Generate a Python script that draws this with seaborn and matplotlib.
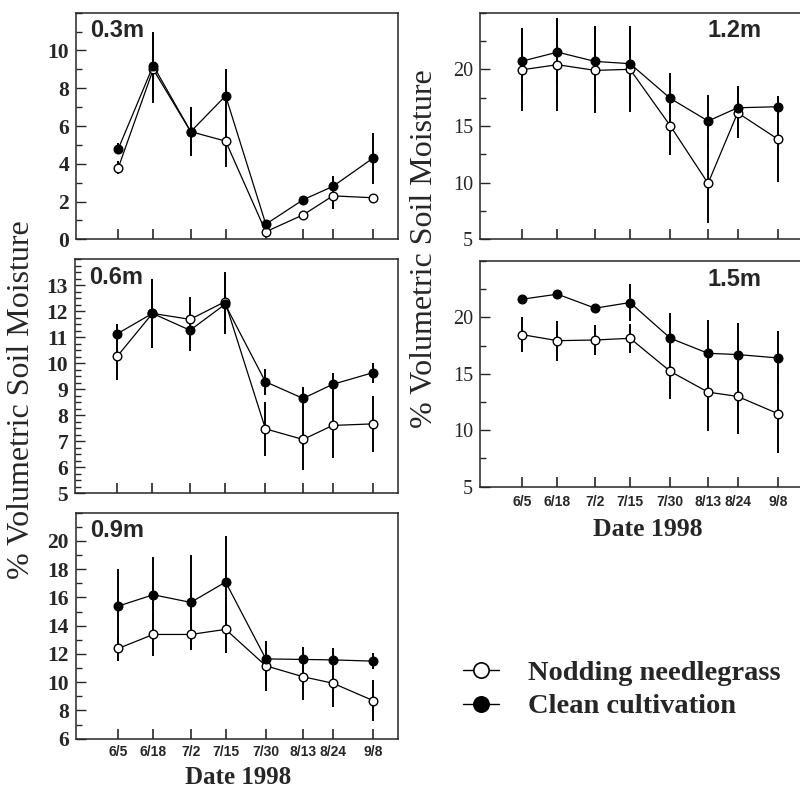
import matplotlib
matplotlib.use("Agg")
import matplotlib.pyplot as plt
import numpy as np
import pandas as pd
import seaborn as sns
from matplotlib.ticker import MultipleLocator
from matplotlib.lines import Line2D
from matplotlib.font_manager import FontProperties

# ---------------- data ----------------
dates = ['6/5', '6/18', '7/2', '7/15', '7/30', '8/13', '8/24', '9/8']
depths = ['0.3m', '0.6m', '0.9m', '1.2m', '1.5m']
series_names = ['Nodding needlegrass', 'Clean cultivation']

needle_03 = [3.8, 9.0, 5.7, 5.2, 0.4, 1.3, 2.3, 2.2]
clean_03 = [4.8, 9.2, 5.7, 7.6, 0.8, 2.1, 2.8, 4.3]
needle_03_err = [0.35, 1.8, 1.3, 1.35, 0.1, 0.1, 0.7, 0.1]
clean_03_err = [0.3, 1.8, 1.3, 1.4, 0.1, 0.1, 0.55, 1.35]

needle_06 = [10.28, 11.92, 11.69, 12.37, 7.48, 7.07, 7.61, 7.67]
clean_06 = [11.14, 11.92, 11.27, 12.27, 9.29, 8.65, 9.19, 9.64]
needle_06_err = [0.93, 1.33, 0.86, 1.15, 1.05, 1.19, 1.25, 1.09]
clean_06_err = [0.36, 1.33, 0.8, 1.15, 0.51, 0.43, 0.45, 0.38]

needle_09 = [12.39, 13.38, 13.38, 13.74, 11.16, 10.38, 9.93, 8.70]
clean_09 = [15.39, 16.19, 15.65, 17.09, 11.65, 11.61, 11.58, 11.49]
needle_09_err = [0.88, 1.49, 1.1, 1.64, 1.75, 1.66, 1.68, 1.44]
clean_09_err = [2.62, 2.7, 3.35, 3.29, 1.26, 0.87, 0.81, 0.59]

needle_12 = [19.97, 20.41, 19.91, 20.0, 15.0, 9.94, 16.17, 13.83]
clean_12 = [20.73, 21.52, 20.70, 20.50, 17.43, 15.44, 16.61, 16.70]
needle_12_err = [3.62, 4.06, 3.8, 3.8, 2.6, 3.54, 2.19, 3.8]
clean_12_err = [2.92, 3.0, 3.1, 3.36, 2.25, 2.28, 1.9, 0.81]

needle_15 = [18.47, 17.94, 18.0, 18.15, 15.21, 13.38, 13.0, 11.47]
clean_15 = [21.62, 22.06, 20.82, 21.32, 18.15, 16.82, 16.71, 16.41]
needle_15_err = [1.53, 1.78, 1.35, 1.3, 2.47, 3.44, 3.29, 3.47]
clean_15_err = [0.15, 0.15, 0.15, 1.62, 2.23, 2.97, 2.79, 2.35]

ylims = [(0, 12), (5, 14), (6, 22), (5, 25), (5, 25)]
major_steps = [2, 1, 2, 5, 5]
minor_steps = [1, 0.25, 1, 2.5, 2.5]

# day-of-year positions derived from date labels
days = pd.to_datetime(['1998/' + d for d in dates], format='%Y/%m/%d').dayofyear.values

panel_data = {
    '0.3m': (needle_03, needle_03_err, clean_03, clean_03_err),
    '0.6m': (needle_06, needle_06_err, clean_06, clean_06_err),
    '0.9m': (needle_09, needle_09_err, clean_09, clean_09_err),
    '1.2m': (needle_12, needle_12_err, clean_12, clean_12_err),
    '1.5m': (needle_15, needle_15_err, clean_15, clean_15_err),
}

# ---------------- style ----------------
sns.set_style('ticks')
plt.rcParams['font.family'] = ['Liberation Serif', 'DejaVu Serif']
plt.rcParams['axes.linewidth'] = 1.1

W, H = 800, 789
fig = plt.figure(figsize=(8, 7.89), dpi=100)

def frac(l, t, r, b):
    return [l / W, 1 - b / H, (r - l) / W, (b - t) / H]

rects = {
    '0.3m': frac(76, 12.7, 398, 239.3),
    '0.6m': frac(75, 259.3, 398, 493.3),
    '0.9m': frac(76, 512.7, 398, 738.7),
    '1.2m': frac(480, 12.7, 803, 239.3),
    '1.5m': frac(480, 261, 803, 486.7),
}
title_pos = {
    '0.3m': (0.045, 0.97),
    '0.6m': (0.045, 0.97),
    '0.9m': (0.045, 0.97),
    '1.2m': (0.705, 0.97),
    '1.5m': (0.705, 0.97),
}
xlabel_panels = {'0.9m': 4.5, '1.5m': 6}

for i, depth in enumerate(depths):
    ax = fig.add_axes(rects[depth])
    nv, ne, cv, ce = panel_data[depth]
    # error bars
    ax.errorbar(days, nv, yerr=ne, fmt='none', ecolor='black', elinewidth=1.4, capsize=0, zorder=2)
    ax.errorbar(days, cv, yerr=ce, fmt='none', ecolor='black', elinewidth=1.4, capsize=0, zorder=2)
    # lines with markers
    sns.lineplot(x=days, y=nv, ax=ax, color='black', linewidth=0.9, marker='o', markersize=6.2,
                 markerfacecolor='white', markeredgecolor='black', markeredgewidth=1.0, zorder=3)
    sns.lineplot(x=days, y=cv, ax=ax, color='black', linewidth=0.9, marker='o', markersize=6.2,
                 markerfacecolor='black', markeredgecolor='black', markeredgewidth=1.0, zorder=4)

    ax.set_xlim(140.2, 260.3)
    ax.set_ylim(*ylims[i])
    ax.yaxis.set_major_locator(MultipleLocator(major_steps[i]))
    ax.yaxis.set_minor_locator(MultipleLocator(minor_steps[i]))
    ax.set_xticks(days)
    for s in ax.spines.values():
        s.set_visible(True)
        s.set_linewidth(1.1)
    ax.tick_params(axis='y', which='major', direction='in', length=7, width=1.0, pad=5)
    ax.tick_params(axis='y', which='minor', direction='in', length=4.5, width=1.0)
    ax.tick_params(axis='x', which='major', direction='in', length=7, width=1.2)
    right_col = depth in ('1.2m', '1.5m')
    yt = [t for t in ax.get_yticks() if ylims[i][0] <= t < ylims[i][1]]
    ax.set_yticks(yt)
    ax.set_yticklabels([('%g' % t) for t in yt],
                       fontsize=14.5 if right_col else 15.5,
                       fontweight='normal' if right_col else 'bold',
                       family='Liberation Serif')
    if depth in xlabel_panels:
        ax.set_xticklabels(dates, family=['Liberation Sans Narrow', 'Liberation Sans'],
                           fontweight='bold', fontsize=10)
        ax.tick_params(axis='x', pad=xlabel_panels[depth])
    else:
        ax.set_xticklabels([])
    ax.set_xlabel('')
    ax.set_ylabel('')
    ax.text(title_pos[depth][0], title_pos[depth][1], depth, transform=ax.transAxes,
            ha='left', va='top', fontsize=17, fontweight='bold', family='Liberation Sans')

# axis titles
fig.text(22 / W, 1 - 400 / H, '% Volumetric Soil Moisture', rotation=90, ha='center', va='center',
         fontsize=23, family='Liberation Serif')
fig.text(425 / W, 1 - 249 / H, '% Volumetric Soil Moisture', rotation=90, ha='center', va='center',
         fontsize=23, family='Liberation Serif')
fig.text(238 / W, 1 - 783.5 / H, 'Date 1998', ha='center', va='baseline',
         fontsize=18, fontweight='bold', family='Liberation Serif')
fig.text(648 / W, 1 - 536 / H, 'Date 1998', ha='center', va='baseline',
         fontsize=18.5, fontweight='bold', family='Liberation Serif')

# legend
handles = [
    Line2D([], [], color='black', linewidth=1.0, marker='o', markersize=11,
           markerfacecolor='white', markeredgecolor='black', markeredgewidth=1.2),
    Line2D([], [], color='black', linewidth=1.0, marker='o', markersize=11,
           markerfacecolor='black', markeredgecolor='black', markeredgewidth=1.2),
]
fig.legend(handles, series_names, loc='center left', bbox_to_anchor=(463 / W, 1 - 690 / H),
           frameon=False, prop=FontProperties(family='Liberation Serif', weight='bold', size=20.5),
           handlelength=1.25, handletextpad=1.05, labelspacing=0.25, borderpad=0, borderaxespad=0)

fig.savefig('out.png', dpi=100)
